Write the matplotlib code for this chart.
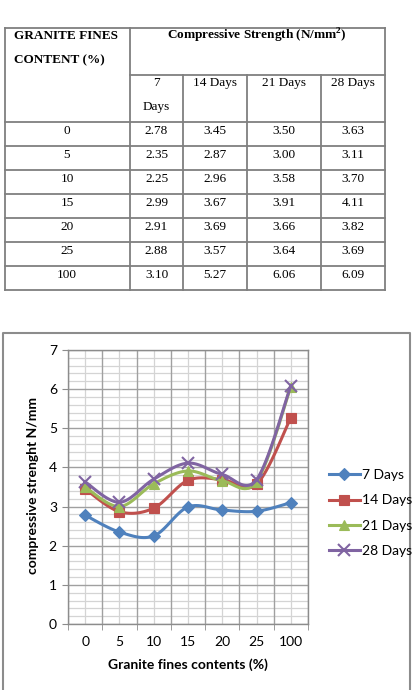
import numpy as np
import matplotlib
matplotlib.use("Agg")
import matplotlib.pyplot as plt
from matplotlib.lines import Line2D

plt.rcParams['mathtext.fontset'] = 'custom'
plt.rcParams['mathtext.rm'] = 'Liberation Serif'
plt.rcParams['mathtext.bf'] = 'Liberation Serif:bold'

# data
contents = ["0", "5", "10", "15", "20", "25", "100"]
series_names = ["7 Days", "14 Days", "21 Days", "28 Days"]
days_7 = [2.78, 2.35, 2.25, 2.99, 2.91, 2.88, 3.10]
days_14 = [3.45, 2.87, 2.96, 3.67, 3.69, 3.57, 5.27]
days_21 = [3.50, 3.00, 3.58, 3.91, 3.66, 3.64, 6.06]
days_28 = [3.63, 3.11, 3.70, 4.11, 3.82, 3.69, 6.09]
series = [days_7, days_14, days_21, days_28]

colors = ["#4F81BD", "#C0504D", "#9BBB59", "#8064A2"]
markers = ["D", "s", "^", "x"]
msizes = [6, 7, 7.5, 8]

W, H = 413, 690
fig = plt.figure(figsize=(W / 100, H / 100), dpi=100)

# overlay in pixel coordinates for the table and the chart frame
ov = fig.add_axes([0, 0, 1, 1], zorder=0)
ov.set_xlim(0, W)
ov.set_ylim(H, 0)
ov.axis("off")

tc = "#7f7f7f"
lw = 1.3
x_left, x_c1, x_right = 5, 130, 385
col_x = [130, 183, 247, 321, 385]
row_y = [122, 146, 170, 194, 218, 242, 266, 290]
ov.plot([x_left, x_right], [28, 28], color=tc, lw=lw)
ov.plot([x_c1, x_right], [75, 75], color=tc, lw=lw)
for y in row_y:
    ov.plot([x_left, x_right], [y, y], color=tc, lw=lw)
for x in [x_left, x_c1, x_right]:
    ov.plot([x, x], [28, 290], color=tc, lw=lw)
for x in col_x[1:-1]:
    ov.plot([x, x], [75, 290], color=tc, lw=lw)

serif = "Liberation Serif"
fs = 9.5
ov.text(14, 36, "GRANITE FINES", fontfamily=serif, fontweight="bold", fontsize=fs, va="center")
ov.text(14, 60, "CONTENT (%)", fontfamily=serif, fontweight="bold", fontsize=fs, va="center")
ov.text(257, 36, r"Compressive Strength (N/mm$^{\mathbf{2}}$)", fontfamily=serif,
        fontweight="bold", fontsize=fs, va="center", ha="center")
centers = [(col_x[i] + col_x[i + 1]) / 2 for i in range(4)]
ov.text(centers[0], 83, "7", fontfamily=serif, fontsize=fs, va="center", ha="center")
ov.text(centers[0], 107, "Days", fontfamily=serif, fontsize=fs, va="center", ha="center")
for i in range(1, 4):
    ov.text(centers[i], 83, series_names[i], fontfamily=serif, fontsize=fs, va="center", ha="center")
for r, c in enumerate(contents):
    y = row_y[r] + 9
    ov.text(67, y, c, fontfamily=serif, fontsize=fs, va="center", ha="center")
    for i, s in enumerate(series):
        ov.text(centers[i], y, f"{s[r]:.2f}", fontfamily=serif, fontsize=fs, va="center", ha="center")

# chart frame
ov.plot([3, 3, 410, 410], [700, 333, 333, 700], color="#8c8c8c", lw=1.5)


def smooth(xs, ys, n=20):
    # Catmull-Rom style bezier through the points (Excel "smoothed line")
    pts = np.column_stack([xs, ys]).astype(float)
    p = np.vstack([pts[0], pts, pts[-1]])
    out = []
    t = np.linspace(0, 1, n, endpoint=False)[:, None]
    for i in range(1, len(p) - 2):
        p0, p1, p2, p3 = p[i - 1], p[i], p[i + 1], p[i + 2]
        c1 = p1 + (p2 - p0) / 6
        c2 = p2 - (p3 - p1) / 6
        seg = ((1 - t) ** 3) * p1 + 3 * ((1 - t) ** 2) * t * c1 + 3 * (1 - t) * t ** 2 * c2 + t ** 3 * p2
        out.append(seg)
    out.append(pts[-1][None, :])
    out = np.vstack(out)
    return out[:, 0], out[:, 1], list(range(0, n * (len(pts) - 1) + 1, n))


# chart
ax = fig.add_axes([68 / W, 1 - 624 / H, 240 / W, 274 / H], zorder=2)
xpos = np.arange(len(contents))
for s, name, c, m, ms in zip(series, series_names, colors, markers, msizes):
    sx, sy, idx = smooth(xpos, s)
    ax.plot(sx, sy, color=c, lw=2.2, marker=m, markersize=ms, markevery=idx,
            markeredgewidth=1.5 if m == "x" else 0.8, markeredgecolor=c, label=name, zorder=3)

ax.set_xlim(-0.5, len(contents) - 0.5)
ax.set_ylim(0, 7)
for v in np.arange(0, 7.01, 0.2):
    if abs(v - round(v)) < 1e-6:
        continue
    ax.axhline(v, color="#d4d4d4", lw=0.9, zorder=1)
for v in range(0, 8):
    ax.axhline(v, color="#a0a0a0", lw=1.0, zorder=1.5)
for x in xpos:
    ax.axvline(x, color="#d4d4d4", lw=0.9, zorder=1)
for x in np.arange(-0.5, len(contents)):
    ax.axvline(x, color="#a0a0a0", lw=1.0, zorder=1.5)
for sp in ax.spines.values():
    sp.set_color("#8c8c8c")
    sp.set_linewidth(1.0)

ax.set_xticks(xpos)
ax.set_xticklabels(contents)
ax.set_xticks(np.arange(-0.5, len(contents)), minor=True)
ax.tick_params(axis="x", which="major", length=0, pad=9, labelsize=10)
ax.tick_params(axis="x", which="minor", length=4, color="#8c8c8c")
ax.set_yticks(range(0, 8))
ax.tick_params(axis="y", length=4, color="#8c8c8c", labelsize=10, pad=4)
for lab in ax.get_xticklabels() + ax.get_yticklabels():
    lab.set_fontfamily("Lato")

fig.text(188 / W, 1 - 665 / H, "Granite fines contents (%)", fontfamily="Lato",
         fontweight="bold", fontsize=10, ha="center", va="center")
fig.text(33 / W, 1 - 485 / H, "compressive strenght N/mm", fontfamily="Lato",
         fontweight="bold", fontsize=10, ha="center", va="center", rotation=90)

fig.legend(loc="center left", bbox_to_anchor=(329 / W, 1 - 513 / H), frameon=False,
           handlelength=2.2, handletextpad=0.15, labelspacing=0.95,
           prop={"family": "Lato", "size": 10}, borderaxespad=0, borderpad=0)

fig.savefig("out.png", dpi=100)
